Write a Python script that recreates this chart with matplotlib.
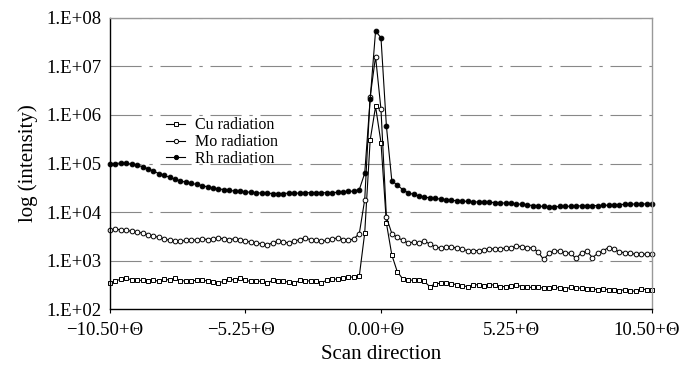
import numpy as np
import matplotlib
matplotlib.use("Agg")
import matplotlib.pyplot as plt
import matplotlib.transforms as mtransforms

plt.rcParams["font.family"] = ["Liberation Serif", "DejaVu Serif"]

# scan positions (101 steps of 0.21 from -10.50 to 10.50, offsets from theta)
scan = np.linspace(-10.5, 10.5, 101)

cu = [3.4e2, 3.8e2, 4.1e2, 4.3e2, 4.0e2, 3.9e2, 3.9e2, 3.8e2, 4.0e2, 3.7e2, 4.2e2,
      3.9e2, 4.3e2, 3.8e2, 3.8e2, 3.8e2, 3.9e2, 3.9e2, 3.8e2, 3.6e2, 3.5e2,
      3.7e2, 4.2e2, 3.9e2, 4.3e2, 3.9e2, 3.7e2, 3.8e2, 3.7e2, 3.4e2, 3.9e2,
      3.8e2, 3.7e2, 3.6e2, 3.4e2, 3.9e2, 3.8e2, 3.8e2, 3.7e2, 3.5e2, 3.9e2,
      4.2e2, 4.1e2, 4.3e2, 4.5e2, 4.6e2, 4.8e2,
      3.7e3, 3.0e5, 1.5e6, 2.7e5, 5.9e3, 1.3e3, 5.9e2, 4.2e2, 4.0e2, 3.9e2,
      3.9e2, 3.7e2, 2.9e2, 3.3e2, 3.4e2, 3.4e2, 3.3e2, 3.2e2, 3.0e2, 2.9e2, 3.1e2, 3.2e2, 3.0e2, 3.2e2,
      3.1e2, 2.9e2, 2.9e2, 3.0e2, 3.1e2, 2.9e2, 2.8e2, 2.8e2, 2.8e2, 2.7e2, 2.7e2,
      2.8e2, 2.7e2, 2.6e2, 2.8e2, 2.7e2, 2.7e2, 2.6e2, 2.6e2, 2.5e2, 2.6e2, 2.5e2,
      2.5e2, 2.4e2, 2.5e2, 2.4e2, 2.3e2, 2.6e2, 2.5e2, 2.5e2]

mo = [4.3e3, 4.4e3, 4.3e3, 4.2e3, 4.0e3, 3.8e3, 3.7e3, 3.4e3, 3.2e3, 3.0e3, 2.8e3,
      2.6e3, 2.5e3, 2.5e3, 2.6e3, 2.7e3, 2.6e3, 2.8e3, 2.7e3, 2.8e3, 2.9e3,
      2.8e3, 2.7e3, 2.8e3, 2.7e3, 2.5e3, 2.4e3, 2.3e3, 2.2e3, 2.1e3, 2.3e3,
      2.5e3, 2.4e3, 2.3e3, 2.5e3, 2.7e3, 2.9e3, 2.7e3, 2.6e3, 2.5e3, 2.6e3,
      2.8e3, 2.9e3, 2.7e3, 2.6e3, 2.8e3, 3.6e3,
      1.8e4, 2.35e6, 1.6e7, 1.3e6, 7.9e3, 3.6e3, 3.0e3, 2.6e3, 2.3e3, 2.4e3,
      2.3e3, 2.5e3, 2.2e3, 1.9e3, 1.8e3, 1.9e3, 1.9e3, 1.8e3, 1.7e3, 1.6e3, 1.6e3, 1.6e3, 1.65e3, 1.7e3,
      1.75e3, 1.75e3, 1.8e3, 1.8e3, 2.0e3, 1.9e3, 1.85e3, 1.8e3, 1.5e3, 1.05e3, 1.4e3,
      1.6e3, 1.55e3, 1.45e3, 1.4e3, 1.1e3, 1.45e3, 1.55e3, 1.15e3, 1.4e3, 1.6e3, 1.85e3,
      1.7e3, 1.5e3, 1.45e3, 1.4e3, 1.35e3, 1.35e3, 1.35e3, 1.35e3]

rh = [9.6e4, 1.0e5, 1.02e5, 1.01e5, 9.7e4, 9.2e4, 8.6e4, 7.8e4, 7.0e4, 6.2e4, 5.7e4,
      5.2e4, 4.7e4, 4.4e4, 4.1e4, 3.9e4, 3.7e4, 3.5e4, 3.3e4, 3.1e4, 3.0e4,
      2.9e4, 2.8e4, 2.7e4, 2.65e4, 2.6e4, 2.55e4, 2.5e4, 2.45e4, 2.45e4, 2.4e4,
      2.4e4, 2.4e4, 2.45e4, 2.45e4, 2.45e4, 2.5e4, 2.5e4, 2.5e4, 2.5e4, 2.5e4,
      2.5e4, 2.55e4, 2.6e4, 2.65e4, 2.7e4, 2.9e4,
      6.3e4, 2.1e6, 5.4e7, 3.9e7, 5.9e5, 4.4e4, 3.6e4, 2.9e4, 2.5e4, 2.3e4,
      2.15e4, 2.05e4, 1.95e4, 1.9e4, 1.85e4, 1.8e4, 1.75e4, 1.7e4, 1.68e4, 1.65e4, 1.63e4, 1.6e4, 1.6e4, 1.58e4,
      1.57e4, 1.55e4, 1.52e4, 1.5e4, 1.47e4, 1.44e4, 1.4e4, 1.36e4, 1.33e4, 1.3e4, 1.27e4,
      1.28e4, 1.3e4, 1.3e4, 1.32e4, 1.33e4, 1.34e4, 1.35e4, 1.35e4, 1.36e4, 1.37e4, 1.38e4,
      1.4e4, 1.42e4, 1.44e4, 1.45e4, 1.46e4, 1.47e4, 1.46e4, 1.46e4]

xtick_pos = [-10.5, -5.25, 0.0, 5.25, 10.5]
xtick_lab = ["\u221210.50+\u0398", "\u22125.25+\u0398", "0.00+\u0398", "5.25+\u0398", "10.50+\u0398"]
ytick_pos = [1e2, 1e3, 1e4, 1e5, 1e6, 1e7, 1e8]
ytick_lab = ["1.E+02", "1.E+03", "1.E+04", "1.E+05", "1.E+06", "1.E+07", "1.E+08"]

fig = plt.figure(figsize=(6.81, 3.65), dpi=100)
ax = fig.add_axes([0.1615, 0.1534, 0.7959, 0.7973])

for yv in ytick_pos[1:]:
    ax.axhline(yv, color="#888", lw=0.8, ls=(0, (28, 7, 3, 7)), zorder=0)

kw = dict(color="black", lw=0.8, ms=3.4, mew=0.7, clip_on=False)
ax.plot(scan, cu, "-s", mfc="white", label="Cu radiation", **kw)
ax.plot(scan, mo, "-o", mfc="white", label="Mo radiation", **kw)
ax.plot(scan, rh, "-o", mfc="black", label="Rh radiation", **kw)

ax.set_yscale("log")
ax.set_ylim(1e2, 1e8)
ax.set_xlim(-10.5, 10.5)
ax.set_yticks(ytick_pos)
ax.set_yticklabels(ytick_lab)
ax.minorticks_off()
ax.set_xticks(xtick_pos)
ax.set_xticklabels(xtick_lab)
ax.tick_params(axis="both", labelsize=13.5, length=3, width=0.8, colors="black")
ax.tick_params(axis="x", pad=6)
ax.tick_params(axis="y", length=0, pad=6)

# Excel-style labels sit a little left of their tick
shift = mtransforms.ScaledTranslation(-5 / 100, 0, fig.dpi_scale_trans)
for lab in ax.get_xticklabels():
    lab.set_transform(lab.get_transform() + shift)

for s in ["left", "bottom"]:
    ax.spines[s].set_color("black")
    ax.spines[s].set_linewidth(1.0)
for s in ["top", "right"]:
    ax.spines[s].set_color("#999")
    ax.spines[s].set_linewidth(1.0)

ax.set_xlabel("Scan direction", fontsize=15, labelpad=5)
ax.set_ylabel("log (intensity)", fontsize=15, labelpad=6)

ax.legend(loc="upper left", bbox_to_anchor=(0.232, 0.7), bbox_transform=fig.transFigure,
          frameon=False, fontsize=11.5, handlelength=1.2, handletextpad=0.6,
          labelspacing=0.05, borderpad=0, markerscale=0.9)

fig.savefig("out.png", dpi=100)
